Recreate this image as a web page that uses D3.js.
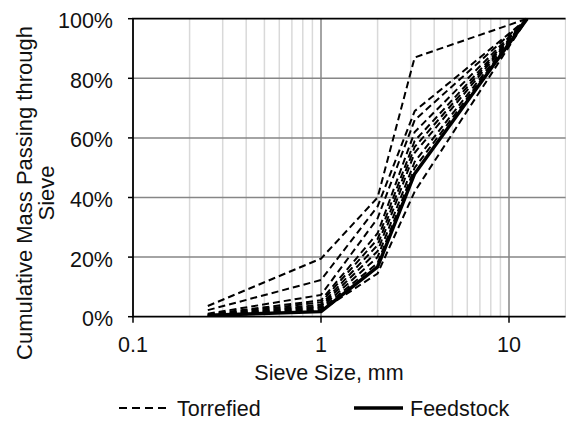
<!DOCTYPE html>
<html>
<head>
<meta charset="utf-8">
<script src="https://cdn.jsdelivr.net/npm/d3@7"></script>
<style>
  html, body { margin: 0; padding: 0; background: #fff; }
  svg { display: block; }
  text { font-family: "Liberation Sans", Arial, sans-serif; fill: #111; }
</style>
</head>
<body>
<svg id="chart" width="566" height="421"></svg>
<script>
// ---- data ----
const sieveSizes = [0.25, 1, 2, 3.15, 12.5];
const feedstock = [0.005, 0.017, 0.167, 0.48, 1.0];
const torrefied = [
  [0.036, 0.195, 0.40, 0.87, 1.0],
  [0.022, 0.123, 0.37, 0.69, 1.0],
  [0.010, 0.073, 0.33, 0.66, 1.0],
  [0.008, 0.055, 0.28, 0.62, 1.0],
  [0.006, 0.048, 0.26, 0.59, 1.0],
  [0.005, 0.040, 0.24, 0.57, 1.0],
  [0.004, 0.035, 0.22, 0.55, 1.0],
  [0.003, 0.030, 0.20, 0.52, 1.0],
  [0.002, 0.025, 0.18, 0.50, 1.0],
  [0.002, 0.020, 0.145, 0.42, 1.0]
];
const xTickValues = [0.1, 1, 10];
const xTickLabels = ["0.1", "1", "10"];
const yTickValues = [0, 0.2, 0.4, 0.6, 0.8, 1.0];
const yTickLabels = ["0%", "20%", "40%", "60%", "80%", "100%"];
const minorX = [0.2,0.3,0.4,0.5,0.6,0.7,0.8,0.9,2,3,4,5,6,7,8,9,20];
const seriesNames = ["Torrefied", "Feedstock"];

// ---- layout ----
const svg = d3.select("#chart");
const L = 133, R = 565.6, T = 18.7, B = 316.7;
const x = d3.scaleLog().domain([0.1, 20]).range([L, R]);
const y = d3.scaleLinear().domain([0, 1]).range([B, T]);

svg.append("defs").append("clipPath").attr("id", "clip")
  .append("rect").attr("x", L).attr("y", T - 2).attr("width", R - L + 2).attr("height", B - T + 4);

// minor vertical grid
svg.append("g").selectAll("line").data(minorX).join("line")
  .attr("x1", d => x(d)).attr("x2", d => x(d))
  .attr("y1", T).attr("y2", B)
  .attr("stroke", "#d9d9d9").attr("stroke-width", 1.5);

// major vertical grid
svg.append("g").selectAll("line").data([1, 10]).join("line")
  .attr("x1", d => x(d)).attr("x2", d => x(d))
  .attr("y1", T).attr("y2", B)
  .attr("stroke", "#868686").attr("stroke-width", 1.5);

// horizontal grid
svg.append("g").selectAll("line").data(yTickValues.slice(1, -1)).join("line")
  .attr("x1", L).attr("x2", R)
  .attr("y1", d => y(d)).attr("y2", d => y(d))
  .attr("stroke", "#868686").attr("stroke-width", 1.5);

const line = d3.line().x((d, i) => x(sieveSizes[i])).y(d => y(d));

const plot = svg.append("g").attr("clip-path", "url(#clip)");
plot.selectAll("path.torr").data(torrefied).join("path")
  .attr("class", "torr")
  .attr("d", d => line(d))
  .attr("fill", "none").attr("stroke", "#000")
  .attr("stroke-width", 2).attr("stroke-dasharray", "7,4");

plot.append("path").attr("d", line(feedstock))
  .attr("fill", "none").attr("stroke", "#000").attr("stroke-width", 3.4)
  .attr("stroke-linejoin", "round");

// border (top, left, bottom)
svg.append("path")
  .attr("d", `M${R},${T}H${L}V${B}H${R}`)
  .attr("fill", "none").attr("stroke", "#000").attr("stroke-width", 1.8);

// x axis ticks & labels
const xa = svg.append("g");
xa.selectAll("line").data(xTickValues).join("line")
  .attr("x1", d => x(d)).attr("x2", d => x(d))
  .attr("y1", B).attr("y2", B + 6)
  .attr("stroke", "#000").attr("stroke-width", 1.5);
xa.selectAll("text").data(xTickValues).join("text")
  .attr("x", d => x(d)).attr("y", 352)
  .attr("text-anchor", "middle").attr("font-size", 21.5)
  .text((d, i) => xTickLabels[i]);

// y axis ticks & labels
const ya = svg.append("g");
ya.selectAll("line").data(yTickValues).join("line")
  .attr("x1", L - 5).attr("x2", L)
  .attr("y1", d => y(d)).attr("y2", d => y(d))
  .attr("stroke", "#000").attr("stroke-width", 1.5);
ya.selectAll("text").data(yTickValues).join("text")
  .attr("x", 113).attr("y", d => y(d) + 9.5)
  .attr("text-anchor", "end").attr("font-size", 21.5)
  .text((d, i) => yTickLabels[i]);

// axis titles
svg.append("text").attr("x", 329).attr("y", 380)
  .attr("text-anchor", "middle").attr("font-size", 21.5)
  .text("Sieve Size, mm");

const yt = svg.append("text")
  .attr("transform", "translate(0,193) rotate(-90)")
  .attr("text-anchor", "middle").attr("font-size", 22);
yt.append("tspan").attr("x", 0).attr("y", 32).text("Cumulative Mass Passing through");
yt.append("tspan").attr("x", 0).attr("y", 54).text("Sieve");

// legend
const lg = svg.append("g");
lg.append("line").attr("x1", 119).attr("x2", 167).attr("y1", 408).attr("y2", 408)
  .attr("stroke", "#000").attr("stroke-width", 1.8).attr("stroke-dasharray", "8,5");
lg.append("text").attr("x", 177).attr("y", 416).attr("font-size", 21.5).text(seriesNames[0]);
lg.append("line").attr("x1", 354).attr("x2", 403).attr("y1", 408).attr("y2", 408)
  .attr("stroke", "#000").attr("stroke-width", 3.5);
lg.append("text").attr("x", 410).attr("y", 416).attr("font-size", 21.5).text(seriesNames[1]);
</script>
</body>
</html>
